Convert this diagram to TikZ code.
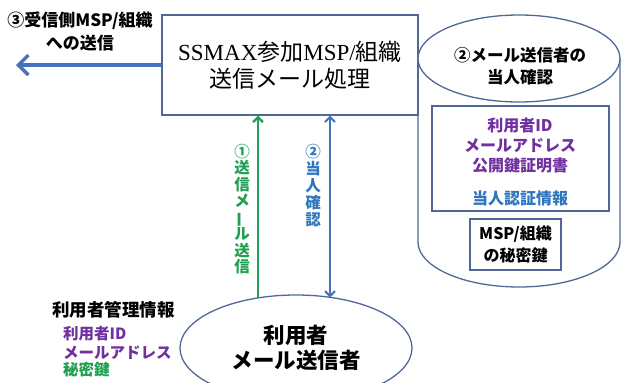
\documentclass[tikz,border=0pt]{standalone}
\usepackage{fontspec}
\setmainfont{Liberation Serif}
\newfontfamily\cjk{Noto Sans CJK JP}
\usetikzlibrary{arrows.meta,shapes.geometric}
\definecolor{boxc}{RGB}{80,104,150}
\definecolor{arrb}{RGB}{70,115,190}
\definecolor{grn}{RGB}{30,160,80}
\definecolor{purp}{RGB}{112,48,160}
\definecolor{txtb}{RGB}{46,117,190}
\newcommand\myvlong{\rotatebox[origin=c]{90}{ー}}
\tikzset{barbtip/.tip={Straight Barb[length=5pt,width=10pt]}}
\begin{document}
\begin{tikzpicture}[x=1pt,y=1pt,
  outl/.style={draw=boxc,line width=1.3pt},
  lbl/.style={font=\cjk\bfseries\fontsize{16}{20}\selectfont,inner sep=0pt,align=center}
]
\useasboundingbox (0,0) rectangle (622,-383);
\clip (0,0) rectangle (622,-383);

% main processing box
\node[outl, minimum width=256, minimum height=100, inner sep=0pt,
      font=\fontsize{23}{27}\selectfont, align=center] (proc) at (290,-65)
  {SSMAX{\cjk 参加}MSP/{\cjk 組織}\\{\cjk 送信メール処理}};

% outgoing arrow
\coordinate (out) at (16,-65);
\draw[arrb, line width=3.5pt, -{Straight Barb[length=10pt,width=20pt]}] (proc.west) -- (out);
\node[lbl, font=\cjk\bfseries\fontsize{17}{23}\selectfont] (l3) at (80,-31) {③受信側MSP/組織\\への送信};

% user ellipse
\node[ellipse, outl, minimum width=232, minimum height=106, inner sep=0pt,
      font=\cjk\bfseries\fontsize{21.5}{25}\selectfont, align=center] (user) at (296,-348)
  {利用者\\メール送信者};

% vertical arrows
\coordinate (gA) at (258,-298);
\coordinate (bA) at (330,-297.5);
\draw[grn, line width=2.2pt, -{barbtip}] (gA) -- (gA |- proc.south);
\draw[arrb, line width=2pt, {barbtip}-{barbtip}] (bA |- proc.south) -- (bA);

\node[lbl, font=\cjk\bfseries\fontsize{15.5}{16.5}\selectfont, text=grn] (lg) at (242,-209)
  {①\\送\\信\\メ\\\myvlong\\ル\\送\\信};
\node[lbl, font=\cjk\bfseries\fontsize{15.5}{17}\selectfont, text=txtb] (lb) at (313,-186)
  {②\\当\\人\\確\\認};

% cylinder
\draw[outl] (418,-58.5) -- (418,-242)
  arc[start angle=180, end angle=360, x radius=101, y radius=45] -- (620,-58.5);
\draw[outl, fill=white] (519,-58.5) ellipse[x radius=101, y radius=43.5];
\node[lbl, font=\cjk\bfseries\fontsize{16.5}{22}\selectfont] (c2) at (520,-66) {②メール送信者の\\当人確認};

\node[outl, minimum width=177, minimum height=105, inner sep=0pt] (ibox) at (520.5,-158.5) {};
\node[lbl, text=purp] (iinfo) at (520,-145) {利用者ID\\メールアドレス\\公開鍵証明書};
\node[lbl, text=txtb] (iauth) at (520,-198) {当人認証情報};

\node[outl, minimum width=91, minimum height=51, inner sep=0pt,
      font=\cjk\bfseries\fontsize{16}{22}\selectfont, align=center] (kbox) at (515.5,-244.5)
  {MSP/組織\\の秘密鍵};

% left user management info
\node[lbl, anchor=west, font=\cjk\bfseries\fontsize{17.5}{20}\selectfont] (mh) at (52,-310) {利用者管理情報};
\node[lbl, anchor=west, align=left, text=purp, font=\cjk\bfseries\fontsize{15.5}{19}\selectfont] (mp) at (63,-342.5) {利用者ID\\メールアドレス};
\node[lbl, anchor=west, text=grn, font=\cjk\bfseries\fontsize{15.5}{19}\selectfont] (mg) at (63,-370) {秘密鍵};
\end{tikzpicture}
\end{document}
